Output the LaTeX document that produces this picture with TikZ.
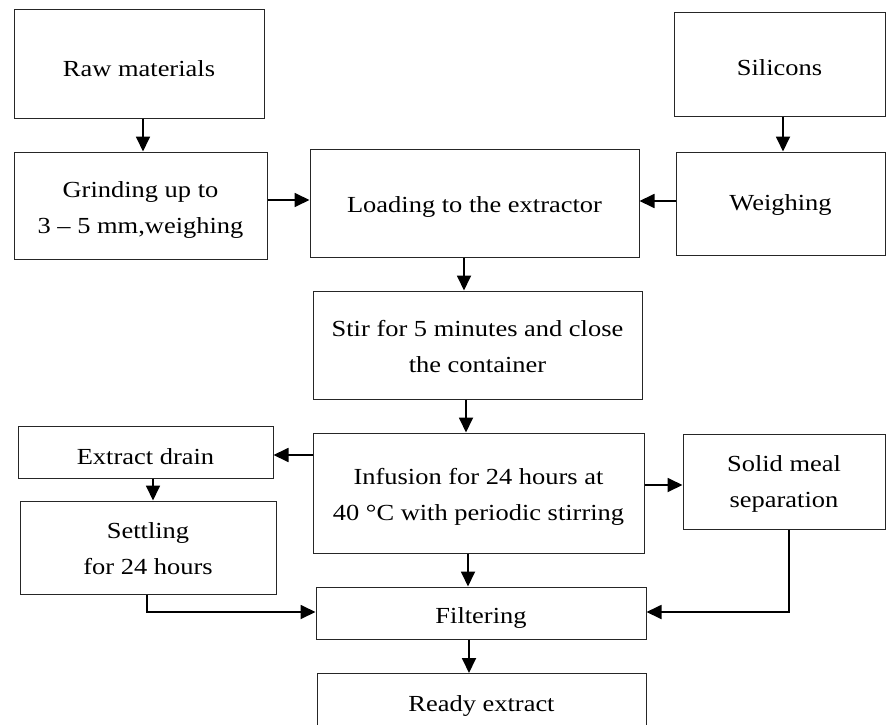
\documentclass[tikz,border=0pt]{standalone}
\usepackage{fontspec}
\setmainfont{Liberation Serif}[FakeStretch=1.15]
\usetikzlibrary{arrows.meta}
\begin{document}
\begin{tikzpicture}[x=1pt,y=-1pt,
  box/.style={draw=black!85,line width=1pt,inner sep=0pt},
  txt/.style={inner sep=0pt,align=center,font=\fontsize{23}{36}\selectfont},
  arr/.style={line width=1.8pt,-{Triangle[length=15pt,width=14pt]}}]
\useasboundingbox (0,0) rectangle (886,725);
\clip (0,0) rectangle (886,725);
\node[box,minimum width=250,minimum height=108] (raw) at (139,64) {};
\node[box,minimum width=253,minimum height=107] (grind) at (140.5,205.5) {};
\node[box,minimum width=329,minimum height=108] (load) at (474.5,203) {};
\node[box,minimum width=211,minimum height=103] (sil) at (779.5,64.5) {};
\node[box,minimum width=209,minimum height=103] (weigh) at (780.5,203.5) {};
\node[box,minimum width=329,minimum height=108] (stir) at (477.5,345) {};
\node[box,minimum width=331,minimum height=120] (inf) at (478.5,493) {};
\node[box,minimum width=255,minimum height=52] (drain) at (145.5,452) {};
\node[box,minimum width=256,minimum height=93] (settle) at (148,547.5) {};
\node[box,minimum width=202,minimum height=95] (solid) at (784,481.5) {};
\node[box,minimum width=330,minimum height=52] (filt) at (481,613) {};
\node[box,minimum width=329,minimum height=72,anchor=north] (ready) at (481.5,673) {};

\node[txt] (rawT) at ([yshift=-4.5pt]raw.center) {Raw materials};
\node[txt] (grindT) at ([yshift=-4.5pt]grind.center) {Grinding up to\\3 – 5 mm,weighing};
\node[txt] (loadT) at ([yshift=-4.5pt]load.center) {Loading to the extractor};
\node[txt] (silT) at ([yshift=-3.5pt]sil.center) {Silicons};
\node[txt] (weighT) at ([yshift=-2pt]weigh.center) {Weighing};
\node[txt] (stirT) at ([yshift=-1.5pt]stir.center) {Stir for 5 minutes and close\\the container};
\node[txt] (infT) at ([yshift=-4pt]inf.center) {Infusion for 24 hours at\\40 °C with periodic stirring};
\node[txt] (drainT) at ([yshift=-4.5pt]drain.center) {Extract drain};
\node[txt] (settleT) at ([yshift=-1pt]settle.center) {Settling\\for 24 hours};
\node[txt] (solidT) at ([yshift=-2.5pt]solid.center) {Solid meal\\separation};
\node[txt] (filtT) at ([yshift=-4.5pt]filt.center) {Filtering};
\node[txt] (readyT) at ([yshift=-33pt]ready.north) {Ready extract};

\draw[arr] ([xshift=4pt]raw.south) -- ([xshift=4pt]raw.south |- grind.north);
\draw[arr] ([xshift=3.5pt]sil.south) -- ([xshift=3.5pt]sil.south |- weigh.north);
\draw[arr] ([yshift=5.5pt]grind.east) -- ([yshift=5.5pt]grind.east -| load.west);
\draw[arr] ([yshift=2.5pt]weigh.west) -- ([yshift=2.5pt]weigh.west -| load.east);
\draw[arr] ([xshift=-10.5pt]load.south) -- ([xshift=-10.5pt]load.south |- stir.north);
\draw[arr] ([xshift=-11.5pt]stir.south) -- ([xshift=-11.5pt]stir.south |- inf.north);
\draw[arr] ([yshift=38pt]inf.west) -- ([yshift=38pt]inf.west -| drain.east);
\draw[arr] ([xshift=7.5pt]drain.south) -- ([xshift=7.5pt]drain.south |- settle.north);
\draw[arr] ([yshift=8pt]inf.east) -- ([yshift=8pt]inf.east -| solid.west);
\draw[arr] ([xshift=-10.5pt]inf.south) -- ([xshift=-10.5pt]inf.south |- filt.north);
\draw[arr] ([xshift=-1pt]settle.south) |- ([yshift=1pt]filt.west);
\draw[arr] ([xshift=5pt]solid.south) |- ([yshift=1pt]filt.east);
\draw[arr] ([xshift=-12pt]filt.south) -- ([xshift=-12pt]filt.south |- ready.north);
\end{tikzpicture}
\end{document}
